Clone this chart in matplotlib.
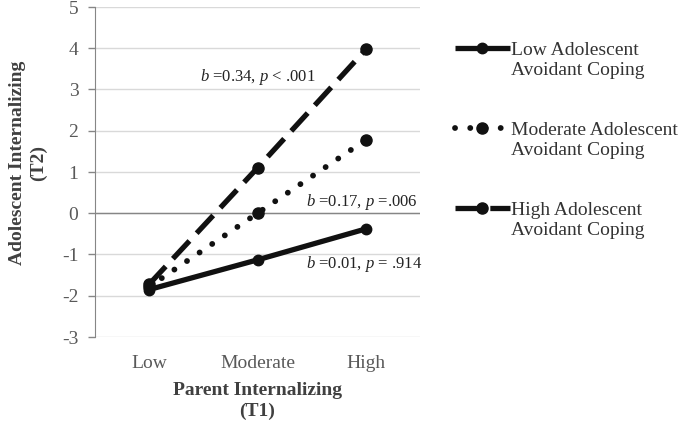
"""Simple slopes plot: parent vs adolescent internalizing"""
import numpy as np
import matplotlib
matplotlib.use("Agg")
import matplotlib.pyplot as plt
from matplotlib.legend_handler import HandlerLine2D

# data
levels = ["Low", "Moderate", "High"]
low_coping = [-1.85, -1.13, -0.38]
mod_coping = [-1.78, 0.0, 1.78]
high_coping = [-1.72, 1.10, 3.97]
series_labels = [
    "Low Adolescent\nAvoidant Coping",
    "Moderate Adolescent\nAvoidant Coping",
    "High Adolescent\nAvoidant Coping",
]
slope_notes = ["$b$ =0.01, $p$ = .914", "$b$ =0.17, $p$ =.006", "$b$ =0.34, $p$ < .001"]
note_pos = [(1.45, -1.24), (1.45, 0.27), (1.0, 3.3)]
note_ha = ["left", "left", "center"]
y_ticks = [-3, -2, -1, 0, 1, 2, 3, 4, 5]

plt.rcParams["font.family"] = ["Liberation Serif", "DejaVu Serif"]
plt.rcParams["mathtext.fontset"] = "custom"
plt.rcParams["mathtext.rm"] = "Liberation Serif"
plt.rcParams["mathtext.it"] = "Liberation Serif:italic"
plt.rcParams["axes.unicode_minus"] = False

TICK_C = "#595959"
LABEL_C = "#404040"
LINE_C = "#111111"


class FirstLineHandler(HandlerLine2D):
    """legend handle next to the first line of a two-line label"""
    def create_artists(self, legend, orig_handle, xdescent, ydescent,
                       width, height, fontsize, trans):
        shift = fontsize * 0.6
        return super().create_artists(legend, orig_handle, xdescent,
                                      ydescent - 2 * shift, width, height,
                                      fontsize, trans)


fig = plt.figure(figsize=(6.85, 4.23), dpi=100)
ax = fig.add_axes([95 / 685, 86 / 423, 325 / 685, 330 / 423])

x = np.arange(len(levels))
l1, = ax.plot(x, low_coping, color=LINE_C, lw=3.8, marker="o", ms=7.5,
              solid_capstyle="butt")
l2, = ax.plot(x, mod_coping, color=LINE_C, lw=4.2, marker="o", ms=8,
              linestyle=(0, (0.01, 2.6)), dash_capstyle="round")
l3, = ax.plot(x, high_coping, color=LINE_C, lw=3.8, marker="o", ms=8,
              linestyle=(0, (4.6, 2.0)))

for txt, (xp, yp), ha in zip(slope_notes, note_pos, note_ha):
    ax.text(xp, yp, txt, fontsize=12, ha=ha, va="center", color="#222222")

ax.set_xlim(-0.5, 2.5)
ax.set_ylim(-3, 5)
ax.set_xticks(x)
ax.set_xticklabels(levels)
ax.set_yticks(y_ticks)
ax.tick_params(axis="x", length=0, pad=13, labelsize=14, labelcolor=TICK_C)
ax.tick_params(axis="y", length=5, width=1, color="#868686", pad=7,
               labelsize=14, labelcolor=TICK_C)

ax.grid(axis="y", color="#d9d9d9", lw=1)
ax.set_axisbelow(True)
ax.axhline(0, color="#868686", lw=1, zorder=1)
for side in ["top", "right", "bottom"]:
    ax.spines[side].set_visible(False)
ax.spines["left"].set_color("#868686")

ax.set_xlabel("Parent Internalizing\n(T1)", fontsize=14, fontweight="bold",
              color=LABEL_C, linespacing=1.3, labelpad=7)
ax.set_ylabel("Adolescent Internalizing\n(T2)", fontsize=14, fontweight="bold",
              color=LABEL_C, linespacing=1.3)
ax.yaxis.set_label_coords(-0.148, 0.527)

leg = ax.legend([l1, l2, l3], series_labels, loc="upper left",
                bbox_to_anchor=(1.108, 0.895), frameon=False, fontsize=14,
                handlelength=2.8, handletextpad=0.1, labelspacing=2.2,
                borderpad=0, borderaxespad=0, numpoints=1,
                handler_map={l: FirstLineHandler() for l in [l1, l2, l3]},
                labelcolor="#333333")
for t in leg.get_texts():
    t.set_linespacing(1.25)

fig.savefig("out.png", dpi=100)
plt.close(fig)
